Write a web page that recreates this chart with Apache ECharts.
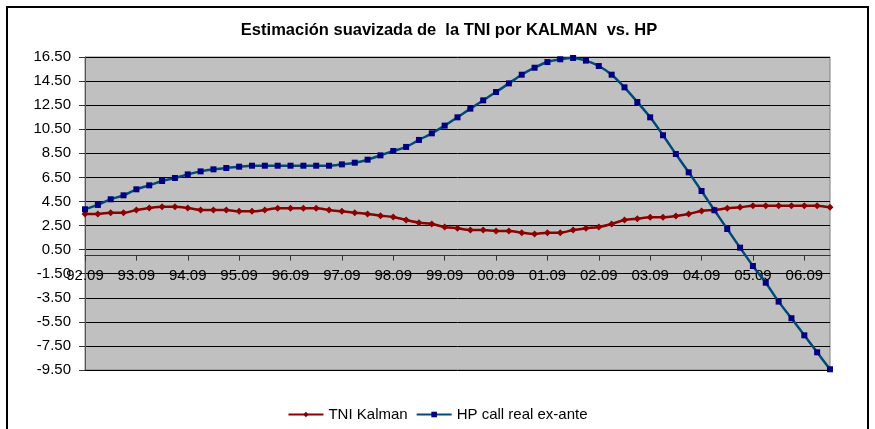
<!DOCTYPE html>
<html>
<head>
<meta charset="utf-8">
<script src="https://cdn.jsdelivr.net/npm/echarts@6/dist/echarts.min.js"></script>
<style>
html,body{margin:0;padding:0;background:#fff;}
#chart{width:875px;height:429px;}
</style>
</head>
<body>
<div id="chart"></div>
<script>
var titleText = 'Estimación suavizada de  la TNI por KALMAN  vs. HP';
var seriesNames = ['TNI Kalman', 'HP call real ex-ante'];
var categories = [
 '92.09','92.12','93.03','93.06','93.09','93.12','94.03','94.06',
 '94.09','94.12','95.03','95.06','95.09','95.12','96.03','96.06',
 '96.09','96.12','97.03','97.06','97.09','97.12','98.03','98.06',
 '98.09','98.12','99.03','99.06','99.09','99.12','00.03','00.06',
 '00.09','00.12','01.03','01.06','01.09','01.12','02.03','02.06',
 '02.09','02.12','03.03','03.06','03.09','03.12','04.03','04.06',
 '04.09','04.12','05.03','05.06','05.09','05.12','06.03','06.06',
 '06.09','06.12','07.03'
];
var tniKalman = [
 3.46,3.46,3.57,3.57,3.79,3.96,4.07,4.07,
 3.96,3.79,3.79,3.79,3.68,3.68,3.79,3.93,
 3.93,3.93,3.93,3.79,3.68,3.57,3.46,3.32,
 3.21,2.96,2.74,2.63,2.38,2.27,2.13,2.13,
 2.05,2.05,1.91,1.80,1.91,1.91,2.13,2.27,
 2.38,2.63,2.96,3.07,3.18,3.18,3.29,3.46,
 3.71,3.79,3.93,4.01,4.15,4.15,4.15,4.15,
 4.15,4.15,4.01
];
var hpCall = [
 3.85,4.21,4.68,5.01,5.51,5.84,6.20,6.45,
 6.75,7.00,7.17,7.28,7.39,7.47,7.47,7.47,
 7.47,7.47,7.47,7.47,7.58,7.72,7.97,8.33,
 8.69,9.03,9.61,10.16,10.80,11.49,12.21,12.90,
 13.59,14.31,15.03,15.61,16.08,16.31,16.42,16.20,
 15.75,15.03,13.98,12.76,11.49,10.00,8.44,6.92,
 5.37,3.77,2.21,0.66,-0.86,-2.25,-3.82,-5.20,
 -6.62,-8.03,-9.44
];
var yMin = -9.5, yMax = 16.5, yStep = 2;

var gridTop = 57, gridBottom = 59, chartH = 429;
var plotH = chartH - gridTop - gridBottom;
// distance from bottom of the plot to the value 0 on the y scale
var zeroOffset = plotH * (0 - yMin) / (yMax - yMin);

var chart = echarts.init(document.getElementById('chart'));
var font = 'Arial, "Liberation Sans", sans-serif';
chart.setOption({
  animation: false,
  backgroundColor: '#ffffff',
  graphic: [{
    type: 'rect', z: -10,
    shape: { x: 7, y: 7, width: 861, height: 440 },
    style: { fill: 'none', stroke: '#000', lineWidth: 2 }
  }],
  title: {
    text: titleText,
    left: 444, top: 17, textAlign: 'center',
    textStyle: { fontFamily: font, fontSize: 16.5, fontWeight: 'bold', color: '#000' }
  },
  legend: {
    data: seriesNames,
    left: 'center', top: 402,
    itemWidth: 35, itemHeight: 7, itemGap: 8,
    textStyle: { fontFamily: font, fontSize: 15, color: '#000' }
  },
  grid: {
    left: 85, right: 45, top: gridTop, bottom: gridBottom,
    show: true, backgroundColor: '#C0C0C0', borderColor: '#808080', borderWidth: 1
  },
  xAxis: {
    type: 'category',
    data: categories,
    boundaryGap: false,
    position: 'bottom',
    offset: -zeroOffset,
    axisLine: { onZero: false, lineStyle: { color: '#333', width: 1 } },
    axisTick: { show: true, interval: 3, length: 5, lineStyle: { color: '#333' } },
    axisLabel: { interval: 3, margin: 13, fontFamily: font, fontSize: 15, color: '#000' },
    splitLine: { show: false }
  },
  yAxis: {
    type: 'value',
    min: yMin, max: yMax, interval: yStep,
    axisLine: { show: true, lineStyle: { color: '#555', width: 1 } },
    axisTick: { show: true, length: 6, lineStyle: { color: '#333' } },
    axisLabel: {
      margin: 14, fontFamily: font, fontSize: 15, color: '#000',
      formatter: function (v) { return v.toFixed(2); }
    },
    splitLine: { show: true, lineStyle: { color: '#000', width: 1 } }
  },
  series: [
    {
      name: seriesNames[0], type: 'line', data: tniKalman,
      smooth: 0.3, symbol: 'diamond', symbolSize: 7,
      lineStyle: { color: '#8B0000', width: 2.5 },
      itemStyle: { color: '#8B0000' }
    },
    {
      name: seriesNames[1], type: 'line', data: hpCall,
      smooth: 0.3, symbol: 'rect', symbolSize: 6,
      lineStyle: { color: '#004A7A', width: 2.5 },
      itemStyle: { color: '#000080' }
    }
  ]
});
</script>
</body>
</html>
